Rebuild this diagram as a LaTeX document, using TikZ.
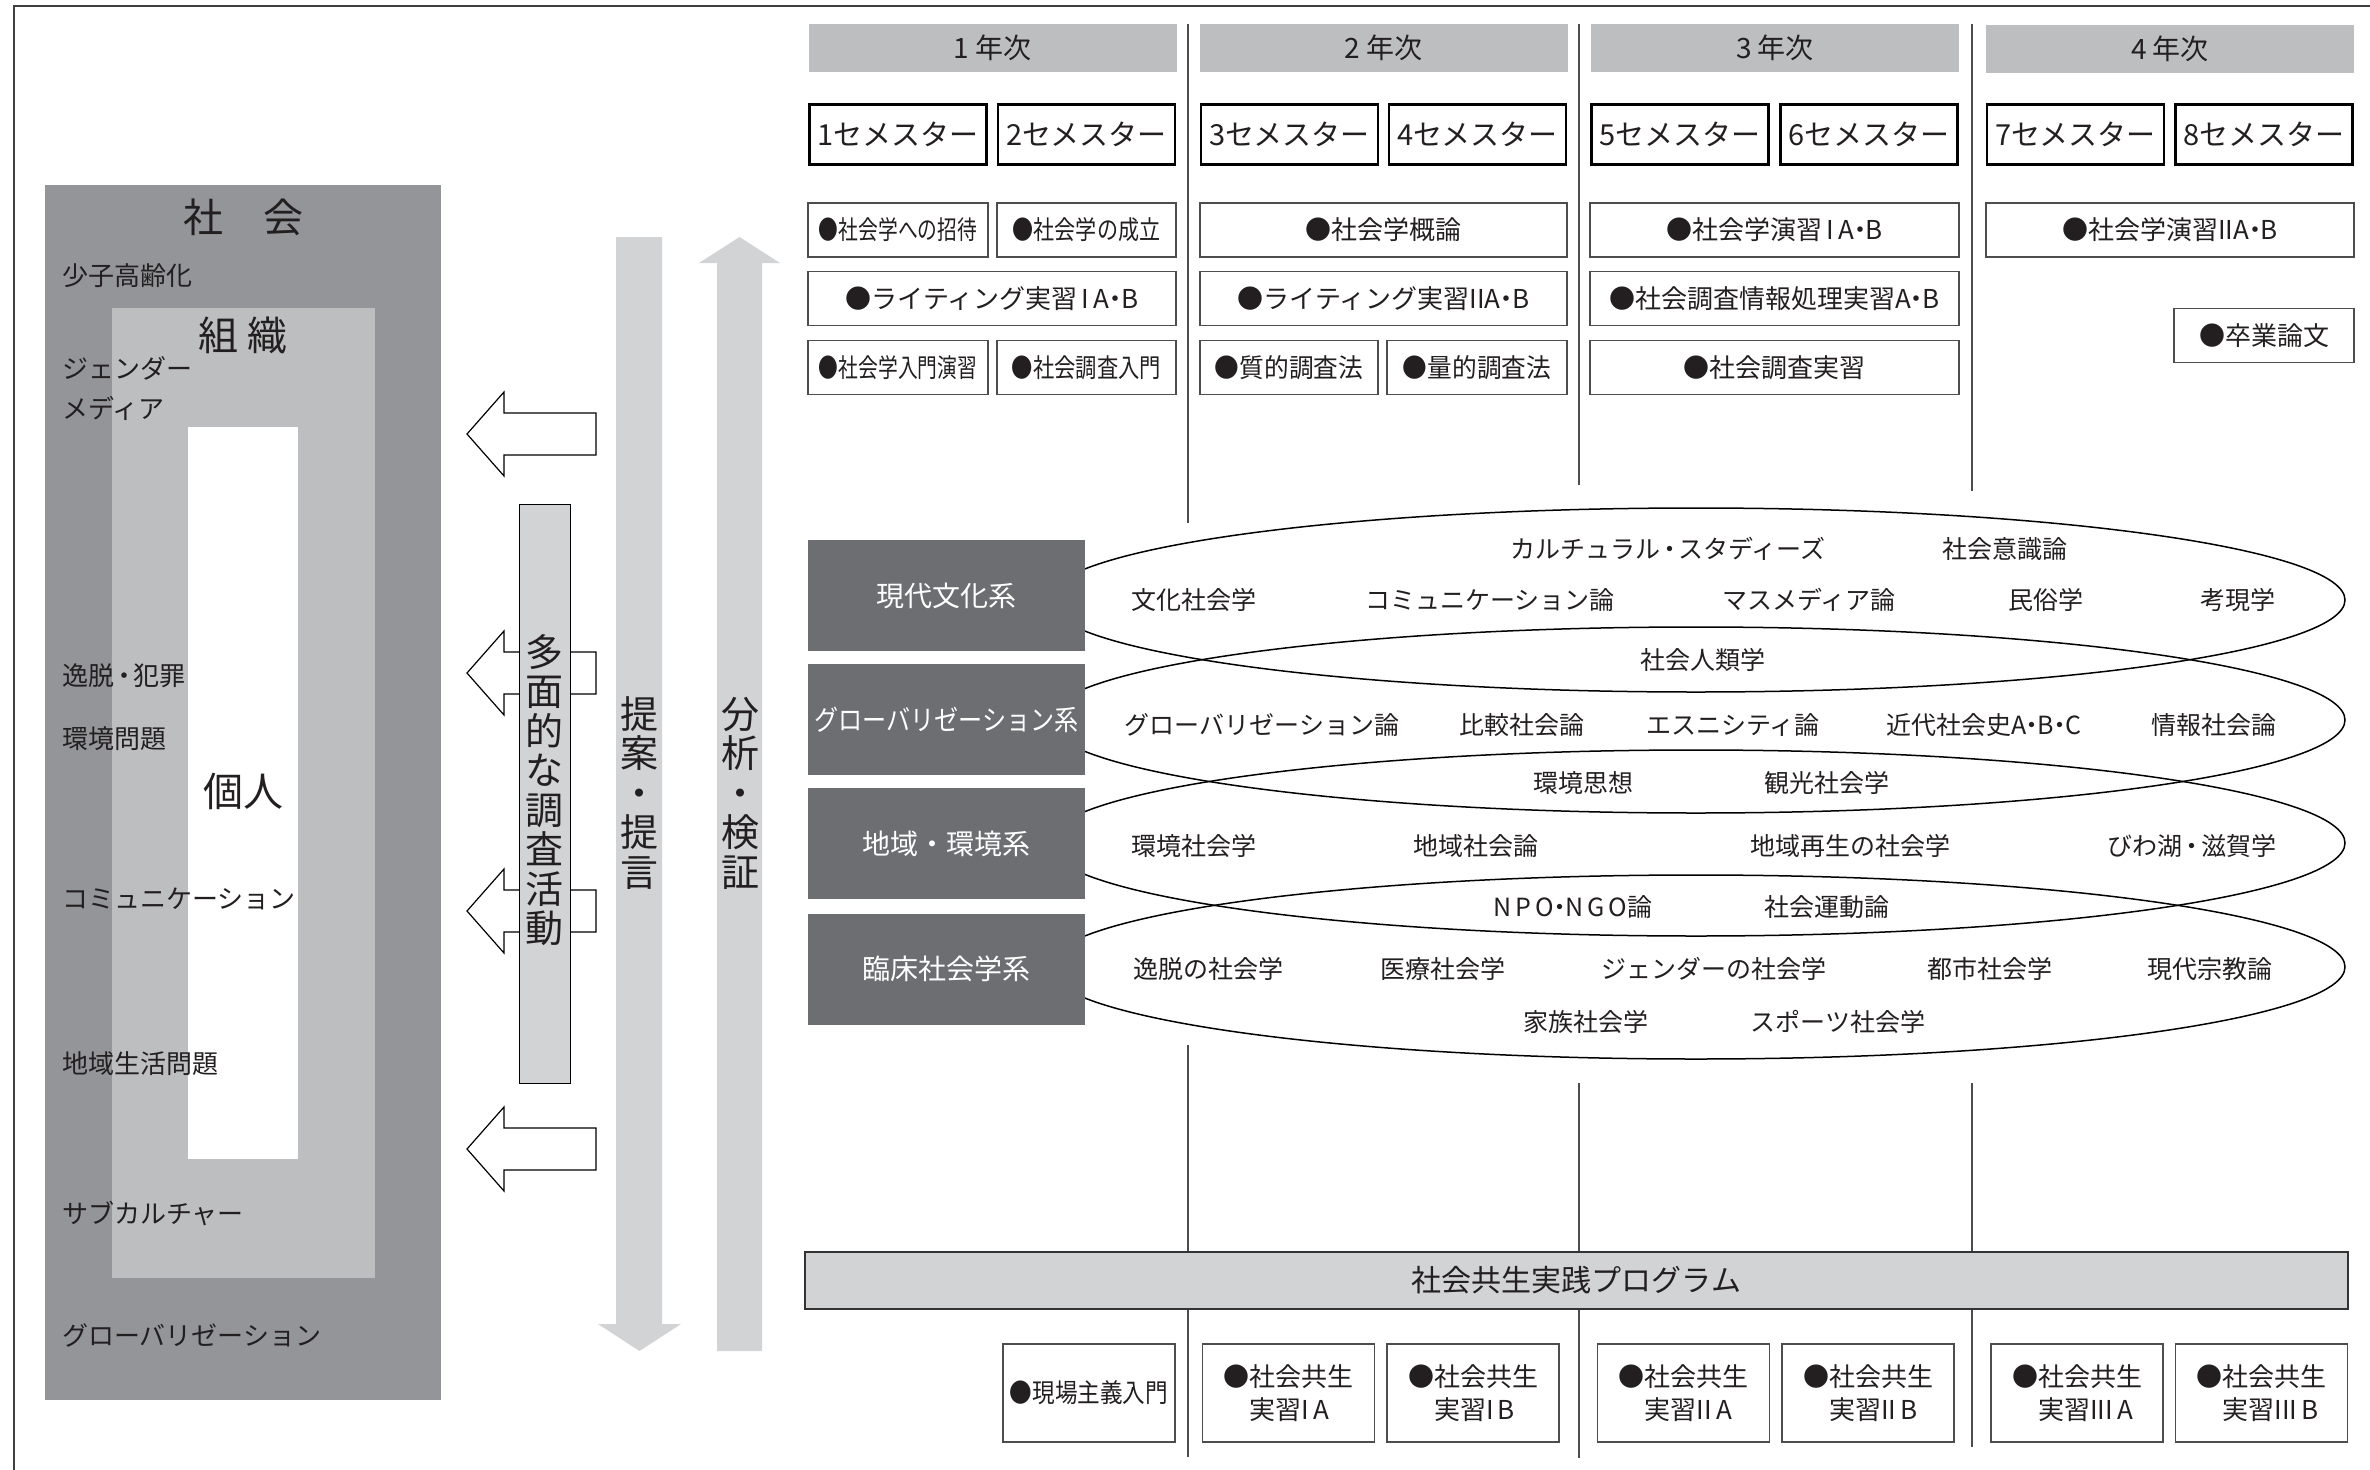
\documentclass[tikz,border=0pt]{standalone}
\usepackage{fontspec}
\setmainfont{Noto Sans CJK JP}
\usepackage{graphicx}
\definecolor{txt}{HTML}{231F20}
\definecolor{socgray}{HTML}{939598}
\definecolor{orggray}{HTML}{BCBEC0}
\definecolor{lightg}{HTML}{D1D3D4}
\definecolor{catgray}{HTML}{6D6E71}
\definecolor{lineg}{HTML}{4D4D4F}
\newcommand{\myfs}[1]{\fontsize{#1}{#1}\selectfont}
\newcommand{\hsc}[2]{\scalebox{#1}[1]{#2}}
\newcommand{\dt}{\kern-0.28em・\kern-0.28em}
\newcommand{\harrow}[1]{\draw[hollow] (467,#1) -- (504,#1-42) -- (504,#1-21) -- (596,#1-21) -- (596,#1+21) -- (504,#1+21) -- (504,#1+42) -- cycle;}
\tikzset{
  lab/.style={font=\myfs{26}, text=txt, anchor=west, inner sep=0pt},
  big/.style={font=\myfs{40}, text=txt, inner sep=0pt},
  hollow/.style={draw=black, fill=white, line width=1.2pt, line join=miter},
  vtext/.style={align=center, text=txt, inner sep=0pt, font=\fontsize{38}{39.5}\selectfont},
  sidebox/.style={draw=black, fill=lightg, line width=1pt},
  divider/.style={draw=lineg, line width=1.6pt},
  hdr/.style={fill=orggray, minimum width=368pt, minimum height=48pt, inner sep=0pt, text=txt, font=\myfs{28}},
  semb/.style={draw=black, line width=2.6pt, minimum width=177pt, minimum height=60pt, inner sep=0pt, text=txt, font=\myfs{29}},
  crs/.style={draw=lineg, line width=1.2pt, minimum height=54pt, inner sep=0pt, text=txt, font=\myfs{26}},
  cat/.style={fill=catgray, text=white, minimum width=277pt, minimum height=111pt, inner sep=0pt, font=\myfs{28}},
  ell/.style={draw=black, line width=1.5pt},
  et/.style={text=txt, inner sep=0pt, font=\myfs{25}},
  prog/.style={draw=black!80, fill=lightg, line width=1.6pt, minimum width=1543pt, minimum height=57pt, inner sep=0pt, font=\myfs{30}, text=txt},
  pbox/.style={draw=lineg, line width=1.2pt, minimum width=172pt, minimum height=98pt, inner sep=0pt, text=txt, font=\fontsize{26}{33}\selectfont, align=left},
}
\begin{document}
\begin{tikzpicture}[x=1pt,y=-1pt]
\useasboundingbox (0,0) rectangle (2370,1470);
% frame
\draw[line width=1.5pt, draw=black!75] (14,1470) -- (14,6) -- (2370,6);
% left panel
\fill[socgray] (45,185) rectangle (441,1400);
\fill[orggray] (112,308) rectangle (375,1278);
\fill[white] (188,427) rectangle (298,1159);
\node[big] (shakai) at (243,217) {社　会};
\node[big] (soshiki) at (243,335) {組 織};
\node[big] (kojin) at (243,791) {個人};
\node[lab] (l1) at (62,276) {少子高齢化};
\node[lab] (l2) at (62,368) {ジェンダー};
\node[lab] (l3) at (62,408) {メディア};
\node[lab] (l4) at (62,676) {逸脱\kern-0.12em・\kern-0.12em 犯罪};
\node[lab] (l5) at (62,739) {環境問題};
\node[lab] (l6) at (62,899) {コミュニケーション};
\node[lab] (l7) at (62,1064) {地域生活問題};
\node[lab] (l8) at (62,1214) {サブカルチャー};
\node[lab] (l9) at (62,1335) {グローバリゼーション};
% hollow arrows
\harrow{434}
\harrow{673}
\harrow{911}
\harrow{1149}
% survey box
\draw[sidebox] (519,504) rectangle (570,1083);
\node[vtext] (tamen) at (544.5,790) {多\\面\\的\\な\\調\\査\\活\\動};
% gray arrows
\fill[lightg] (616,237) -- (662,237) -- (662,1324) -- (681,1324) -- (639.5,1351) -- (598,1324) -- (616,1324) -- cycle;
\fill[lightg] (717,1351) -- (762,1351) -- (762,263) -- (780,263) -- (739.5,237) -- (699,263) -- (717,263) -- cycle;
\node[vtext] (teian) at (639,793) {提\\案\\・\\提\\言};
\node[vtext] (bunseki) at (740,793) {分\\析\\・\\検\\証};
% dividers
\draw[divider] (1188,24) -- (1188,523);
\draw[divider] (1188,1045) -- (1188,1457);
\draw[divider] (1579,24) -- (1579,485);
\draw[divider] (1579,1083) -- (1579,1458);
\draw[divider] (1972,24) -- (1972,491);
\draw[divider] (1972,1083) -- (1972,1447);
% year headers
\node[hdr] (h1) at (992.5,48) {1 年次};
\node[hdr] (h2) at (1383.5,48) {2 年次};
\node[hdr] (h3) at (1775,48) {3 年次};
\node[hdr] (h4) at (2170,49) {4 年次};
% semesters
\node[semb] (s1) at (898,134.5) {1セメスター};
\node[semb] (s2) at (1086.5,134.5) {2セメスター};
\node[semb] (s3) at (1289.5,134.5) {3セメスター};
\node[semb] (s4) at (1477.5,134.5) {4セメスター};
\node[semb] (s5) at (1680,134.5) {5セメスター};
\node[semb] (s6) at (1869,134.5) {6セメスター};
\node[semb] (s7) at (2075.5,134.5) {7セメスター};
\node[semb] (s8) at (2264,134.5) {8セメスター};
% courses
\node[crs, minimum width=180pt] (c11) at (898,230) {\hsc{0.76}{●社会学への招待}};
\node[crs, minimum width=179pt] (c12) at (1086.5,230) {\hsc{0.81}{●社会学の成立}};
\node[crs, minimum width=367pt] (c13) at (1383.5,230) {●社会学概論};
\node[crs, minimum width=369pt] (c14) at (1774.5,230) {●社会学演習\,I\,A\dt B};
\node[crs, minimum width=368pt] (c15) at (2170,230) {●社会学演習IIA\dt B};
\node[crs, minimum width=368pt] (c21) at (992,298.5) {●ライティング実習\,I\,A\dt B};
\node[crs, minimum width=367pt] (c22) at (1383.5,298.5) {●ライティング実習IIA\dt B};
\node[crs, minimum width=369pt] (c23) at (1774.5,298.5) {●社会調査情報処理実習A\dt B};
\node[crs, minimum width=180pt] (c31) at (898,367.5) {\hsc{0.76}{●社会学入門演習}};
\node[crs, minimum width=179pt] (c32) at (1086.5,367.5) {\hsc{0.82}{●社会調査入門}};
\node[crs, minimum width=178pt] (c33) at (1289,367.5) {\hsc{0.95}{●質的調査法}};
\node[crs, minimum width=180pt] (c34) at (1477,367.5) {\hsc{0.95}{●量的調査法}};
\node[crs, minimum width=369pt] (c35) at (1774.5,367.5) {●社会調査実習};
\node[crs, minimum width=180pt] (c4) at (2264,335.5) {●卒業論文};
% ellipses
\draw[ell] (1696,600) ellipse [x radius=649pt, y radius=92pt];
\draw[ell] (1696,720) ellipse [x radius=649pt, y radius=93pt];
\draw[ell] (1696,843) ellipse [x radius=649pt, y radius=93pt];
\draw[ell] (1696,967) ellipse [x radius=649pt, y radius=92pt];
% categories
\node[cat] (cat1) at (946.5,595.5) {現代文化系};
\node[cat] (cat2) at (946.5,719.5) {\hsc{0.86}{グローバリゼーション系}};
\node[cat] (cat3) at (946.5,843.5) {地域・環境系};
\node[cat] (cat4) at (946.5,969) {臨床社会学系};
% ellipse texts
\node[et] (e1a) at (1668,549) {カルチュラル\kern-0.15em・\kern-0.15em スタディーズ};
\node[et] (e1b) at (2005,549) {社会意識論};
\node[et] (e1c) at (1194,600) {文化社会学};
\node[et] (e1d) at (1490,600) {コミュニケーション論};
\node[et] (e1e) at (1809,600) {マスメディア論};
\node[et] (e1f) at (2046,600) {民俗学};
\node[et] (e1g) at (2238,600) {考現学};
\node[et] (e1h) at (1703,660) {社会人類学};
\node[et] (e2a) at (1262,725) {グローバリゼーション論};
\node[et] (e2b) at (1522,725) {比較社会論};
\node[et] (e2c) at (1733,725) {エスニシティ論};
\node[et] (e2d) at (1984,725) {近代社会史A\dt B\dt C};
\node[et] (e2e) at (2214,725) {情報社会論};
\node[et] (e2f) at (1583,783) {環境思想};
\node[et] (e2g) at (1827,783) {観光社会学};
\node[et] (e3a) at (1194,846) {環境社会学};
\node[et] (e3b) at (1476,846) {地域社会論};
\node[et] (e3c) at (1850,846) {地域再生の社会学};
\node[et] (e3d) at (2192,846) {びわ湖\kern-0.12em・\kern-0.12em 滋賀学};
\node[et] (e3e) at (1573,907) {N\,P\,O\dt N\,G\,O論};
\node[et] (e3f) at (1827,907) {社会運動論};
\node[et] (e4a) at (1208,969) {逸脱の社会学};
\node[et] (e4b) at (1443,969) {医療社会学};
\node[et] (e4c) at (1714,969) {ジェンダーの社会学};
\node[et] (e4d) at (1990,969) {都市社会学};
\node[et] (e4e) at (2210,969) {現代宗教論};
\node[et] (e4f) at (1586,1022) {家族社会学};
\node[et] (e4g) at (1838,1022) {スポーツ社会学};
% program
\node[prog] (prog) at (1576.5,1280.5) {社会共生実践プログラム};
\node[pbox] (p0) at (1089,1393) {\hsc{0.87}{●現場主義入門}};
\node[pbox] (p1) at (1288.5,1393) {●社会共生\\\phantom{●}実習I\,A};
\node[pbox] (p2) at (1473,1393) {●社会共生\\\phantom{●}実習I\,B};
\node[pbox] (p3) at (1683.5,1393) {●社会共生\\\phantom{●}実習II\,A};
\node[pbox] (p4) at (1868,1393) {●社会共生\\\phantom{●}実習II\,B};
\node[pbox] (p5) at (2077,1393) {●社会共生\\\phantom{●}実習III\,A};
\node[pbox] (p6) at (2261.5,1393) {●社会共生\\\phantom{●}実習III\,B};
\end{tikzpicture}
\end{document}
